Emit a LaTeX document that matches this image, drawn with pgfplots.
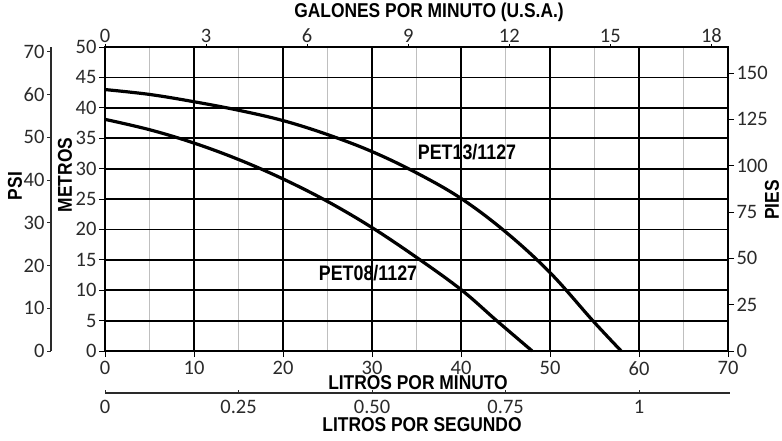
\documentclass[border=0pt]{standalone}
\usepackage{pgfplots}
\pgfplotsset{compat=1.18}
\usepackage{fontspec}
\setmainfont{Carlito}
\newfontfamily\arialf{Liberation Sans}
\newcommand{\ttl}[1]{\scalebox{0.87}[1]{\fontsize{20}{22}\arialf\bfseries #1}}
\newcommand{\crv}[1]{\scalebox{0.85}[1]{\fontsize{21}{23}\arialf\bfseries #1}}
\definecolor{tk}{HTML}{2A2A2A}
\pgfplotsset{
  every tick label/.append style={font=\fontsize{20.5}{22}\selectfont, text=tk},
  /pgf/number format/assume math mode=true,
}
\begin{document}
\begin{tikzpicture}
\useasboundingbox (0pt,0pt) rectangle (782pt,440pt);
% main axis (metros vs litros por minuto)
\begin{axis}[at={(105pt,89pt)}, anchor=south west, scale only axis,
  width=623pt, height=304pt,
  xmin=0, xmax=70, ymin=0, ymax=50,
  xtick={0,10,...,70}, minor xtick={5,15,...,65},
  ytick={0,5,...,50},
  xtick pos=bottom, ytick pos=left,
  grid=both,
  major grid style={black, line width=1.8pt},
  minor grid style={gray!50, line width=1.3pt},
  axis line style={black, line width=2.8pt},
  tick style={black, line width=1pt},
  tick align=outside, major tick length=6pt, minor tick length=0pt,
  xticklabel style={yshift=-1pt},
  yticklabel style={xshift=1pt},
  clip=false]
\addplot[black, line width=3.2pt, smooth, tension=0.6] coordinates {
 (0,43.0) (5,42.2) (10,41.0) (15,39.6) (20,37.9) (25,35.6) (30,32.8)
 (35,29.3) (40,25.1) (45,19.6) (50,12.9) (54.8,5.0) (58.0,0)};
\addplot[black, line width=3.2pt, smooth, tension=0.6] coordinates {
 (0,38.1) (5,36.4) (10,34.2) (15,31.5) (20,28.3) (25,24.6) (30,20.3)
 (35,15.4) (40,10.1) (44,5.0) (48,0)};
\end{axis}
% top axis: galones por minuto
\begin{axis}[at={(105pt,89pt)}, anchor=south west, scale only axis,
  width=623pt, height=304pt,
  xmin=0, xmax=18.4920, ymin=0, ymax=1,
  axis x line*=top, hide y axis,
  xtick={0,3,...,18},
  axis line style={black, line width=2.8pt},
  tick style={black, line width=1pt},
  tick align=outside, major tick length=3pt,
  xticklabel style={yshift=-2pt}]
\end{axis}
% right axis: pies
\begin{axis}[at={(105pt,89pt)}, anchor=south west, scale only axis,
  width=623pt, height=304pt,
  xmin=0, xmax=1, ymin=0, ymax=164.042,
  axis y line*=right, hide x axis,
  ytick={0,25,...,150},
  axis line style={black, line width=2.8pt},
  tick style={black, line width=1pt},
  tick align=outside, major tick length=6pt,
  yticklabel style={xshift=-1pt}]
\end{axis}
% left axis: psi
\begin{axis}[at={(51pt,89pt)}, anchor=south west, scale only axis,
  width=10pt, height=304pt,
  xmin=0, xmax=1, ymin=0, ymax=71.117,
  axis y line*=left, hide x axis,
  ytick={0,10,...,70},
  axis line style={tk, line width=1.2pt},
  tick style={tk, line width=1pt},
  tick align=outside, major tick length=4pt,
  yticklabel style={xshift=1pt}]
\end{axis}
% bottom axis: litros por segundo
\begin{axis}[at={(105pt,47pt)}, anchor=south west, scale only axis,
  width=625pt, height=10pt,
  xmin=0, xmax=1.17, ymin=0, ymax=1,
  axis x line*=bottom, hide y axis,
  xtick={0,0.25,0.5,0.75,1},
  xticklabels={0,0.25,0.50,0.75,1},
  axis line style={tk, line width=1.3pt},
  tick style={tk, line width=1pt},
  tick align=inside, major tick length=3pt,
  xticklabel style={yshift=-4pt}]
\end{axis}
% titles
\node at (429pt,428pt) {\ttl{GALONES POR MINUTO (U.S.A.)}};
\node at (418pt,57pt) {\ttl{LITROS POR MINUTO}};
\node at (422pt,15pt) {\ttl{LITROS POR SEGUNDO}};
\node[rotate=90] at (15pt,254pt) {\ttl{PSI}};
\node[rotate=90] at (65pt,265pt) {\ttl{METROS}};
\node[rotate=90] at (772pt,240pt) {\ttl{PIES}};
\node at (467pt,288pt) {\crv{PET13/1127}};
\node at (368pt,167pt) {\crv{PET08/1127}};
\end{tikzpicture}
\end{document}
